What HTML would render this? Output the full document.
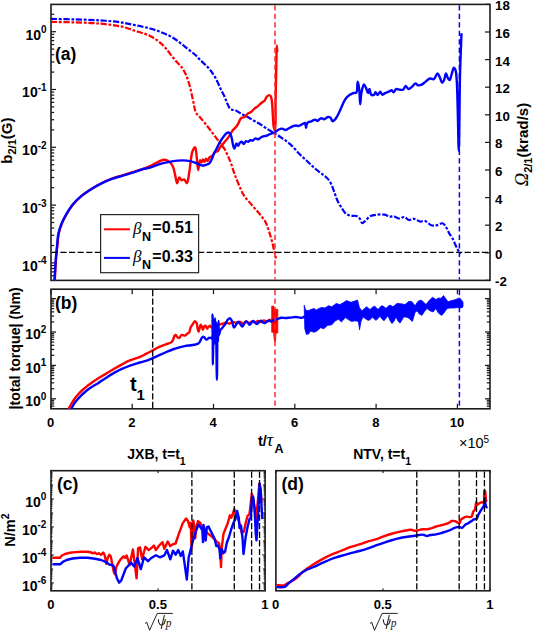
<!DOCTYPE html>
<html><head><meta charset="utf-8"><style>
html,body{margin:0;padding:0;background:#fff;overflow:hidden;}
svg{display:block;}
svg{font-family:"Liberation Sans",sans-serif;font-weight:bold;fill:#000;}
</style></head><body>
<svg width="533" height="631" viewBox="0 0 533 631">
<rect x="51.0" y="4.4" width="439.0" height="276.0" fill="none" stroke="#1c1c1c" stroke-width="1.6"/>
<line x1="51.00" y1="31.70" x2="56.00" y2="31.70" stroke="#1c1c1c" stroke-width="1.25" />
<line x1="51.00" y1="14.30" x2="54.20" y2="14.30" stroke="#1c1c1c" stroke-width="1.25" />
<line x1="51.00" y1="89.50" x2="56.00" y2="89.50" stroke="#1c1c1c" stroke-width="1.25" />
<line x1="51.00" y1="72.10" x2="54.20" y2="72.10" stroke="#1c1c1c" stroke-width="1.25" />
<line x1="51.00" y1="61.92" x2="54.20" y2="61.92" stroke="#1c1c1c" stroke-width="1.25" />
<line x1="51.00" y1="54.70" x2="54.20" y2="54.70" stroke="#1c1c1c" stroke-width="1.25" />
<line x1="51.00" y1="49.10" x2="54.20" y2="49.10" stroke="#1c1c1c" stroke-width="1.25" />
<line x1="51.00" y1="44.52" x2="54.20" y2="44.52" stroke="#1c1c1c" stroke-width="1.25" />
<line x1="51.00" y1="40.65" x2="54.20" y2="40.65" stroke="#1c1c1c" stroke-width="1.25" />
<line x1="51.00" y1="37.30" x2="54.20" y2="37.30" stroke="#1c1c1c" stroke-width="1.25" />
<line x1="51.00" y1="34.34" x2="54.20" y2="34.34" stroke="#1c1c1c" stroke-width="1.25" />
<line x1="51.00" y1="147.30" x2="56.00" y2="147.30" stroke="#1c1c1c" stroke-width="1.25" />
<line x1="51.00" y1="129.90" x2="54.20" y2="129.90" stroke="#1c1c1c" stroke-width="1.25" />
<line x1="51.00" y1="119.72" x2="54.20" y2="119.72" stroke="#1c1c1c" stroke-width="1.25" />
<line x1="51.00" y1="112.50" x2="54.20" y2="112.50" stroke="#1c1c1c" stroke-width="1.25" />
<line x1="51.00" y1="106.90" x2="54.20" y2="106.90" stroke="#1c1c1c" stroke-width="1.25" />
<line x1="51.00" y1="102.32" x2="54.20" y2="102.32" stroke="#1c1c1c" stroke-width="1.25" />
<line x1="51.00" y1="98.45" x2="54.20" y2="98.45" stroke="#1c1c1c" stroke-width="1.25" />
<line x1="51.00" y1="95.10" x2="54.20" y2="95.10" stroke="#1c1c1c" stroke-width="1.25" />
<line x1="51.00" y1="92.14" x2="54.20" y2="92.14" stroke="#1c1c1c" stroke-width="1.25" />
<line x1="51.00" y1="205.10" x2="56.00" y2="205.10" stroke="#1c1c1c" stroke-width="1.25" />
<line x1="51.00" y1="187.70" x2="54.20" y2="187.70" stroke="#1c1c1c" stroke-width="1.25" />
<line x1="51.00" y1="177.52" x2="54.20" y2="177.52" stroke="#1c1c1c" stroke-width="1.25" />
<line x1="51.00" y1="170.30" x2="54.20" y2="170.30" stroke="#1c1c1c" stroke-width="1.25" />
<line x1="51.00" y1="164.70" x2="54.20" y2="164.70" stroke="#1c1c1c" stroke-width="1.25" />
<line x1="51.00" y1="160.12" x2="54.20" y2="160.12" stroke="#1c1c1c" stroke-width="1.25" />
<line x1="51.00" y1="156.25" x2="54.20" y2="156.25" stroke="#1c1c1c" stroke-width="1.25" />
<line x1="51.00" y1="152.90" x2="54.20" y2="152.90" stroke="#1c1c1c" stroke-width="1.25" />
<line x1="51.00" y1="149.94" x2="54.20" y2="149.94" stroke="#1c1c1c" stroke-width="1.25" />
<line x1="51.00" y1="262.90" x2="56.00" y2="262.90" stroke="#1c1c1c" stroke-width="1.25" />
<line x1="51.00" y1="245.50" x2="54.20" y2="245.50" stroke="#1c1c1c" stroke-width="1.25" />
<line x1="51.00" y1="235.32" x2="54.20" y2="235.32" stroke="#1c1c1c" stroke-width="1.25" />
<line x1="51.00" y1="228.10" x2="54.20" y2="228.10" stroke="#1c1c1c" stroke-width="1.25" />
<line x1="51.00" y1="222.50" x2="54.20" y2="222.50" stroke="#1c1c1c" stroke-width="1.25" />
<line x1="51.00" y1="217.92" x2="54.20" y2="217.92" stroke="#1c1c1c" stroke-width="1.25" />
<line x1="51.00" y1="214.05" x2="54.20" y2="214.05" stroke="#1c1c1c" stroke-width="1.25" />
<line x1="51.00" y1="210.70" x2="54.20" y2="210.70" stroke="#1c1c1c" stroke-width="1.25" />
<line x1="51.00" y1="207.74" x2="54.20" y2="207.74" stroke="#1c1c1c" stroke-width="1.25" />
<line x1="51.00" y1="275.72" x2="54.20" y2="275.72" stroke="#1c1c1c" stroke-width="1.25" />
<line x1="51.00" y1="271.85" x2="54.20" y2="271.85" stroke="#1c1c1c" stroke-width="1.25" />
<line x1="51.00" y1="268.50" x2="54.20" y2="268.50" stroke="#1c1c1c" stroke-width="1.25" />
<line x1="51.00" y1="265.54" x2="54.20" y2="265.54" stroke="#1c1c1c" stroke-width="1.25" />
<text x="46.6" y="39.6" font-size="14" text-anchor="end" >10<tspan dy="-6.4" font-size="10">0</tspan></text>
<text x="46.6" y="97.4" font-size="14" text-anchor="end" >10<tspan dy="-6.4" font-size="10">-1</tspan></text>
<text x="46.6" y="155.2" font-size="14" text-anchor="end" >10<tspan dy="-6.4" font-size="10">-2</tspan></text>
<text x="46.6" y="212.99999999999997" font-size="14" text-anchor="end" >10<tspan dy="-6.4" font-size="10">-3</tspan></text>
<text x="46.6" y="270.79999999999995" font-size="14" text-anchor="end" >10<tspan dy="-6.4" font-size="10">-4</tspan></text>
<line x1="490.00" y1="280.40" x2="485.00" y2="280.40" stroke="#1c1c1c" stroke-width="1.25" />
<text x="495.0" y="286.4" font-size="13.3" text-anchor="start" >-2</text>
<line x1="490.00" y1="252.80" x2="485.00" y2="252.80" stroke="#1c1c1c" stroke-width="1.25" />
<text x="495.0" y="258.79999999999995" font-size="13.3" text-anchor="start" >0</text>
<line x1="490.00" y1="225.20" x2="485.00" y2="225.20" stroke="#1c1c1c" stroke-width="1.25" />
<text x="495.0" y="231.2" font-size="13.3" text-anchor="start" >2</text>
<line x1="490.00" y1="197.60" x2="485.00" y2="197.60" stroke="#1c1c1c" stroke-width="1.25" />
<text x="495.0" y="203.59999999999997" font-size="13.3" text-anchor="start" >4</text>
<line x1="490.00" y1="170.00" x2="485.00" y2="170.00" stroke="#1c1c1c" stroke-width="1.25" />
<text x="495.0" y="175.99999999999997" font-size="13.3" text-anchor="start" >6</text>
<line x1="490.00" y1="142.40" x2="485.00" y2="142.40" stroke="#1c1c1c" stroke-width="1.25" />
<text x="495.0" y="148.39999999999998" font-size="13.3" text-anchor="start" >8</text>
<line x1="490.00" y1="114.80" x2="485.00" y2="114.80" stroke="#1c1c1c" stroke-width="1.25" />
<text x="495.0" y="120.79999999999998" font-size="13.3" text-anchor="start" >10</text>
<line x1="490.00" y1="87.20" x2="485.00" y2="87.20" stroke="#1c1c1c" stroke-width="1.25" />
<text x="495.0" y="93.19999999999999" font-size="13.3" text-anchor="start" >12</text>
<line x1="490.00" y1="59.60" x2="485.00" y2="59.60" stroke="#1c1c1c" stroke-width="1.25" />
<text x="495.0" y="65.59999999999997" font-size="13.3" text-anchor="start" >14</text>
<line x1="490.00" y1="32.00" x2="485.00" y2="32.00" stroke="#1c1c1c" stroke-width="1.25" />
<text x="495.0" y="37.99999999999997" font-size="13.3" text-anchor="start" >16</text>
<line x1="490.00" y1="4.40" x2="485.00" y2="4.40" stroke="#1c1c1c" stroke-width="1.25" />
<text x="495.0" y="10.399999999999977" font-size="13.3" text-anchor="start" >18</text>
<rect x="51.0" y="289.2" width="439.0" height="119.60000000000002" fill="none" stroke="#1c1c1c" stroke-width="1.6"/>
<line x1="51.00" y1="406.21" x2="54.20" y2="406.21" stroke="#1c1c1c" stroke-width="1.25" />
<line x1="490.00" y1="406.21" x2="486.80" y2="406.21" stroke="#1c1c1c" stroke-width="1.25" />
<line x1="51.00" y1="403.97" x2="54.20" y2="403.97" stroke="#1c1c1c" stroke-width="1.25" />
<line x1="490.00" y1="403.97" x2="486.80" y2="403.97" stroke="#1c1c1c" stroke-width="1.25" />
<line x1="51.00" y1="402.04" x2="54.20" y2="402.04" stroke="#1c1c1c" stroke-width="1.25" />
<line x1="490.00" y1="402.04" x2="486.80" y2="402.04" stroke="#1c1c1c" stroke-width="1.25" />
<line x1="51.00" y1="400.33" x2="54.20" y2="400.33" stroke="#1c1c1c" stroke-width="1.25" />
<line x1="490.00" y1="400.33" x2="486.80" y2="400.33" stroke="#1c1c1c" stroke-width="1.25" />
<line x1="51.00" y1="398.80" x2="56.00" y2="398.80" stroke="#1c1c1c" stroke-width="1.25" />
<line x1="490.00" y1="398.80" x2="485.00" y2="398.80" stroke="#1c1c1c" stroke-width="1.25" />
<line x1="51.00" y1="388.75" x2="54.20" y2="388.75" stroke="#1c1c1c" stroke-width="1.25" />
<line x1="490.00" y1="388.75" x2="486.80" y2="388.75" stroke="#1c1c1c" stroke-width="1.25" />
<line x1="51.00" y1="382.86" x2="54.20" y2="382.86" stroke="#1c1c1c" stroke-width="1.25" />
<line x1="490.00" y1="382.86" x2="486.80" y2="382.86" stroke="#1c1c1c" stroke-width="1.25" />
<line x1="51.00" y1="378.69" x2="54.20" y2="378.69" stroke="#1c1c1c" stroke-width="1.25" />
<line x1="490.00" y1="378.69" x2="486.80" y2="378.69" stroke="#1c1c1c" stroke-width="1.25" />
<line x1="51.00" y1="375.45" x2="54.20" y2="375.45" stroke="#1c1c1c" stroke-width="1.25" />
<line x1="490.00" y1="375.45" x2="486.80" y2="375.45" stroke="#1c1c1c" stroke-width="1.25" />
<line x1="51.00" y1="372.81" x2="54.20" y2="372.81" stroke="#1c1c1c" stroke-width="1.25" />
<line x1="490.00" y1="372.81" x2="486.80" y2="372.81" stroke="#1c1c1c" stroke-width="1.25" />
<line x1="51.00" y1="370.57" x2="54.20" y2="370.57" stroke="#1c1c1c" stroke-width="1.25" />
<line x1="490.00" y1="370.57" x2="486.80" y2="370.57" stroke="#1c1c1c" stroke-width="1.25" />
<line x1="51.00" y1="368.64" x2="54.20" y2="368.64" stroke="#1c1c1c" stroke-width="1.25" />
<line x1="490.00" y1="368.64" x2="486.80" y2="368.64" stroke="#1c1c1c" stroke-width="1.25" />
<line x1="51.00" y1="366.93" x2="54.20" y2="366.93" stroke="#1c1c1c" stroke-width="1.25" />
<line x1="490.00" y1="366.93" x2="486.80" y2="366.93" stroke="#1c1c1c" stroke-width="1.25" />
<line x1="51.00" y1="365.40" x2="56.00" y2="365.40" stroke="#1c1c1c" stroke-width="1.25" />
<line x1="490.00" y1="365.40" x2="485.00" y2="365.40" stroke="#1c1c1c" stroke-width="1.25" />
<line x1="51.00" y1="355.35" x2="54.20" y2="355.35" stroke="#1c1c1c" stroke-width="1.25" />
<line x1="490.00" y1="355.35" x2="486.80" y2="355.35" stroke="#1c1c1c" stroke-width="1.25" />
<line x1="51.00" y1="349.46" x2="54.20" y2="349.46" stroke="#1c1c1c" stroke-width="1.25" />
<line x1="490.00" y1="349.46" x2="486.80" y2="349.46" stroke="#1c1c1c" stroke-width="1.25" />
<line x1="51.00" y1="345.29" x2="54.20" y2="345.29" stroke="#1c1c1c" stroke-width="1.25" />
<line x1="490.00" y1="345.29" x2="486.80" y2="345.29" stroke="#1c1c1c" stroke-width="1.25" />
<line x1="51.00" y1="342.05" x2="54.20" y2="342.05" stroke="#1c1c1c" stroke-width="1.25" />
<line x1="490.00" y1="342.05" x2="486.80" y2="342.05" stroke="#1c1c1c" stroke-width="1.25" />
<line x1="51.00" y1="339.41" x2="54.20" y2="339.41" stroke="#1c1c1c" stroke-width="1.25" />
<line x1="490.00" y1="339.41" x2="486.80" y2="339.41" stroke="#1c1c1c" stroke-width="1.25" />
<line x1="51.00" y1="337.17" x2="54.20" y2="337.17" stroke="#1c1c1c" stroke-width="1.25" />
<line x1="490.00" y1="337.17" x2="486.80" y2="337.17" stroke="#1c1c1c" stroke-width="1.25" />
<line x1="51.00" y1="335.24" x2="54.20" y2="335.24" stroke="#1c1c1c" stroke-width="1.25" />
<line x1="490.00" y1="335.24" x2="486.80" y2="335.24" stroke="#1c1c1c" stroke-width="1.25" />
<line x1="51.00" y1="333.53" x2="54.20" y2="333.53" stroke="#1c1c1c" stroke-width="1.25" />
<line x1="490.00" y1="333.53" x2="486.80" y2="333.53" stroke="#1c1c1c" stroke-width="1.25" />
<line x1="51.00" y1="332.00" x2="56.00" y2="332.00" stroke="#1c1c1c" stroke-width="1.25" />
<line x1="490.00" y1="332.00" x2="485.00" y2="332.00" stroke="#1c1c1c" stroke-width="1.25" />
<line x1="51.00" y1="321.95" x2="54.20" y2="321.95" stroke="#1c1c1c" stroke-width="1.25" />
<line x1="490.00" y1="321.95" x2="486.80" y2="321.95" stroke="#1c1c1c" stroke-width="1.25" />
<line x1="51.00" y1="316.06" x2="54.20" y2="316.06" stroke="#1c1c1c" stroke-width="1.25" />
<line x1="490.00" y1="316.06" x2="486.80" y2="316.06" stroke="#1c1c1c" stroke-width="1.25" />
<line x1="51.00" y1="311.89" x2="54.20" y2="311.89" stroke="#1c1c1c" stroke-width="1.25" />
<line x1="490.00" y1="311.89" x2="486.80" y2="311.89" stroke="#1c1c1c" stroke-width="1.25" />
<line x1="51.00" y1="308.65" x2="54.20" y2="308.65" stroke="#1c1c1c" stroke-width="1.25" />
<line x1="490.00" y1="308.65" x2="486.80" y2="308.65" stroke="#1c1c1c" stroke-width="1.25" />
<line x1="51.00" y1="306.01" x2="54.20" y2="306.01" stroke="#1c1c1c" stroke-width="1.25" />
<line x1="490.00" y1="306.01" x2="486.80" y2="306.01" stroke="#1c1c1c" stroke-width="1.25" />
<line x1="51.00" y1="303.77" x2="54.20" y2="303.77" stroke="#1c1c1c" stroke-width="1.25" />
<line x1="490.00" y1="303.77" x2="486.80" y2="303.77" stroke="#1c1c1c" stroke-width="1.25" />
<line x1="51.00" y1="301.84" x2="54.20" y2="301.84" stroke="#1c1c1c" stroke-width="1.25" />
<line x1="490.00" y1="301.84" x2="486.80" y2="301.84" stroke="#1c1c1c" stroke-width="1.25" />
<line x1="51.00" y1="300.13" x2="54.20" y2="300.13" stroke="#1c1c1c" stroke-width="1.25" />
<line x1="490.00" y1="300.13" x2="486.80" y2="300.13" stroke="#1c1c1c" stroke-width="1.25" />
<line x1="51.00" y1="298.60" x2="56.00" y2="298.60" stroke="#1c1c1c" stroke-width="1.25" />
<line x1="490.00" y1="298.60" x2="485.00" y2="298.60" stroke="#1c1c1c" stroke-width="1.25" />
<text x="46.3" y="406.0" font-size="14" text-anchor="end" >10<tspan dy="-6.4" font-size="10">0</tspan></text>
<text x="46.3" y="372.6" font-size="14" text-anchor="end" >10<tspan dy="-6.4" font-size="10">1</tspan></text>
<text x="46.3" y="339.2" font-size="14" text-anchor="end" >10<tspan dy="-6.4" font-size="10">2</tspan></text>
<line x1="50.90" y1="408.80" x2="50.90" y2="403.80" stroke="#1c1c1c" stroke-width="1.25" />
<line x1="50.90" y1="289.20" x2="50.90" y2="294.20" stroke="#1c1c1c" stroke-width="1.25" />
<text x="50.6" y="427.0" font-size="13" text-anchor="middle" >0</text>
<line x1="132.20" y1="408.80" x2="132.20" y2="403.80" stroke="#1c1c1c" stroke-width="1.25" />
<line x1="132.20" y1="289.20" x2="132.20" y2="294.20" stroke="#1c1c1c" stroke-width="1.25" />
<text x="131.89999999999998" y="427.0" font-size="13" text-anchor="middle" >2</text>
<line x1="213.50" y1="408.80" x2="213.50" y2="403.80" stroke="#1c1c1c" stroke-width="1.25" />
<line x1="213.50" y1="289.20" x2="213.50" y2="294.20" stroke="#1c1c1c" stroke-width="1.25" />
<text x="213.2" y="427.0" font-size="13" text-anchor="middle" >4</text>
<line x1="294.80" y1="408.80" x2="294.80" y2="403.80" stroke="#1c1c1c" stroke-width="1.25" />
<line x1="294.80" y1="289.20" x2="294.80" y2="294.20" stroke="#1c1c1c" stroke-width="1.25" />
<text x="294.49999999999994" y="427.0" font-size="13" text-anchor="middle" >6</text>
<line x1="376.10" y1="408.80" x2="376.10" y2="403.80" stroke="#1c1c1c" stroke-width="1.25" />
<line x1="376.10" y1="289.20" x2="376.10" y2="294.20" stroke="#1c1c1c" stroke-width="1.25" />
<text x="375.79999999999995" y="427.0" font-size="13" text-anchor="middle" >8</text>
<line x1="457.40" y1="408.80" x2="457.40" y2="403.80" stroke="#1c1c1c" stroke-width="1.25" />
<line x1="457.40" y1="289.20" x2="457.40" y2="294.20" stroke="#1c1c1c" stroke-width="1.25" />
<text x="457.09999999999997" y="427.0" font-size="13" text-anchor="middle" >10</text>
<rect x="51.0" y="470.7" width="214.10000000000002" height="120.09999999999997" fill="none" stroke="#1c1c1c" stroke-width="1.6"/>
<rect x="275.9" y="470.7" width="214.10000000000002" height="120.09999999999997" fill="none" stroke="#1c1c1c" stroke-width="1.6"/>
<text x="55" y="59.7" font-size="17.5" text-anchor="start" >(a)</text>
<text x="55" y="308.9" font-size="17.5" text-anchor="start" >(b)</text>
<text x="57" y="489.7" font-size="17.5" text-anchor="start" >(c)</text>
<text x="281.5" y="489.7" font-size="17.5" text-anchor="start" >(d)</text>
<text x="130" y="390.5" font-size="20" text-anchor="start" >t</text>
<text x="136.5" y="399.9" font-size="15" text-anchor="start" >1</text>
<text x="127.3" y="458.8" font-size="14" text-anchor="start" >JXB, t=t<tspan font-size='10.5' dy='6'>1</tspan></text>
<text x="353.2" y="458.8" font-size="14" text-anchor="start" >NTV, t=t<tspan font-size='10.5' dy='6'>1</tspan></text>
<text x="257.9" y="445.8" font-size="14.5" text-anchor="start" >t/</text>
<text x="266.6" y="446.0" font-size="19" text-anchor="start" font-family='Liberation Serif' font-style='italic' font-weight='normal'>τ</text>
<text x="274.6" y="452.7" font-size="12.5" text-anchor="start" >A</text>
<text x="459" y="448.3" font-size="14.5" text-anchor="start" font-weight='normal'>×10<tspan font-size='10' dy='-5.8'>5</tspan></text>
<text x="50.8" y="608.8" font-size="13" text-anchor="middle" >0</text>
<line x1="51.00" y1="590.80" x2="51.00" y2="588.40" stroke="#1c1c1c" stroke-width="1.2" />
<line x1="51.00" y1="470.70" x2="51.00" y2="473.10" stroke="#1c1c1c" stroke-width="1.2" />
<text x="157.85000000000002" y="608.8" font-size="13" text-anchor="middle" >0.5</text>
<line x1="158.05" y1="590.80" x2="158.05" y2="588.40" stroke="#1c1c1c" stroke-width="1.2" />
<line x1="158.05" y1="470.70" x2="158.05" y2="473.10" stroke="#1c1c1c" stroke-width="1.2" />
<text x="264.90000000000003" y="608.8" font-size="13" text-anchor="middle" >1</text>
<line x1="265.10" y1="590.80" x2="265.10" y2="588.40" stroke="#1c1c1c" stroke-width="1.2" />
<line x1="265.10" y1="470.70" x2="265.10" y2="473.10" stroke="#1c1c1c" stroke-width="1.2" />
<text x="275.7" y="608.8" font-size="13" text-anchor="middle" >0</text>
<line x1="275.90" y1="590.80" x2="275.90" y2="588.40" stroke="#1c1c1c" stroke-width="1.2" />
<line x1="275.90" y1="470.70" x2="275.90" y2="473.10" stroke="#1c1c1c" stroke-width="1.2" />
<text x="382.75" y="608.8" font-size="13" text-anchor="middle" >0.5</text>
<line x1="382.95" y1="590.80" x2="382.95" y2="588.40" stroke="#1c1c1c" stroke-width="1.2" />
<line x1="382.95" y1="470.70" x2="382.95" y2="473.10" stroke="#1c1c1c" stroke-width="1.2" />
<text x="489.8" y="608.8" font-size="13" text-anchor="middle" >1</text>
<line x1="490.00" y1="590.80" x2="490.00" y2="588.40" stroke="#1c1c1c" stroke-width="1.2" />
<line x1="490.00" y1="470.70" x2="490.00" y2="473.10" stroke="#1c1c1c" stroke-width="1.2" />
<line x1="51.00" y1="588.47" x2="52.50" y2="588.47" stroke="#1c1c1c" stroke-width="0.9" />
<line x1="265.10" y1="588.47" x2="263.60" y2="588.47" stroke="#1c1c1c" stroke-width="0.9" />
<line x1="51.00" y1="587.11" x2="52.50" y2="587.11" stroke="#1c1c1c" stroke-width="0.9" />
<line x1="265.10" y1="587.11" x2="263.60" y2="587.11" stroke="#1c1c1c" stroke-width="0.9" />
<line x1="51.00" y1="586.01" x2="52.50" y2="586.01" stroke="#1c1c1c" stroke-width="0.9" />
<line x1="265.10" y1="586.01" x2="263.60" y2="586.01" stroke="#1c1c1c" stroke-width="0.9" />
<line x1="51.00" y1="585.07" x2="52.50" y2="585.07" stroke="#1c1c1c" stroke-width="0.9" />
<line x1="265.10" y1="585.07" x2="263.60" y2="585.07" stroke="#1c1c1c" stroke-width="0.9" />
<line x1="51.00" y1="584.26" x2="52.50" y2="584.26" stroke="#1c1c1c" stroke-width="0.9" />
<line x1="265.10" y1="584.26" x2="263.60" y2="584.26" stroke="#1c1c1c" stroke-width="0.9" />
<line x1="51.00" y1="583.54" x2="52.50" y2="583.54" stroke="#1c1c1c" stroke-width="0.9" />
<line x1="265.10" y1="583.54" x2="263.60" y2="583.54" stroke="#1c1c1c" stroke-width="0.9" />
<line x1="51.00" y1="582.90" x2="54.00" y2="582.90" stroke="#1c1c1c" stroke-width="0.9" />
<line x1="265.10" y1="582.90" x2="262.10" y2="582.90" stroke="#1c1c1c" stroke-width="0.9" />
<line x1="51.00" y1="578.69" x2="52.50" y2="578.69" stroke="#1c1c1c" stroke-width="0.9" />
<line x1="265.10" y1="578.69" x2="263.60" y2="578.69" stroke="#1c1c1c" stroke-width="0.9" />
<line x1="51.00" y1="576.22" x2="52.50" y2="576.22" stroke="#1c1c1c" stroke-width="0.9" />
<line x1="265.10" y1="576.22" x2="263.60" y2="576.22" stroke="#1c1c1c" stroke-width="0.9" />
<line x1="51.00" y1="574.47" x2="52.50" y2="574.47" stroke="#1c1c1c" stroke-width="0.9" />
<line x1="265.10" y1="574.47" x2="263.60" y2="574.47" stroke="#1c1c1c" stroke-width="0.9" />
<line x1="51.00" y1="573.11" x2="52.50" y2="573.11" stroke="#1c1c1c" stroke-width="0.9" />
<line x1="265.10" y1="573.11" x2="263.60" y2="573.11" stroke="#1c1c1c" stroke-width="0.9" />
<line x1="51.00" y1="572.01" x2="52.50" y2="572.01" stroke="#1c1c1c" stroke-width="0.9" />
<line x1="265.10" y1="572.01" x2="263.60" y2="572.01" stroke="#1c1c1c" stroke-width="0.9" />
<line x1="51.00" y1="571.07" x2="52.50" y2="571.07" stroke="#1c1c1c" stroke-width="0.9" />
<line x1="265.10" y1="571.07" x2="263.60" y2="571.07" stroke="#1c1c1c" stroke-width="0.9" />
<line x1="51.00" y1="570.26" x2="52.50" y2="570.26" stroke="#1c1c1c" stroke-width="0.9" />
<line x1="265.10" y1="570.26" x2="263.60" y2="570.26" stroke="#1c1c1c" stroke-width="0.9" />
<line x1="51.00" y1="569.54" x2="52.50" y2="569.54" stroke="#1c1c1c" stroke-width="0.9" />
<line x1="265.10" y1="569.54" x2="263.60" y2="569.54" stroke="#1c1c1c" stroke-width="0.9" />
<line x1="51.00" y1="568.90" x2="53.20" y2="568.90" stroke="#1c1c1c" stroke-width="0.9" />
<line x1="265.10" y1="568.90" x2="262.90" y2="568.90" stroke="#1c1c1c" stroke-width="0.9" />
<line x1="51.00" y1="564.69" x2="52.50" y2="564.69" stroke="#1c1c1c" stroke-width="0.9" />
<line x1="265.10" y1="564.69" x2="263.60" y2="564.69" stroke="#1c1c1c" stroke-width="0.9" />
<line x1="51.00" y1="562.22" x2="52.50" y2="562.22" stroke="#1c1c1c" stroke-width="0.9" />
<line x1="265.10" y1="562.22" x2="263.60" y2="562.22" stroke="#1c1c1c" stroke-width="0.9" />
<line x1="51.00" y1="560.47" x2="52.50" y2="560.47" stroke="#1c1c1c" stroke-width="0.9" />
<line x1="265.10" y1="560.47" x2="263.60" y2="560.47" stroke="#1c1c1c" stroke-width="0.9" />
<line x1="51.00" y1="559.11" x2="52.50" y2="559.11" stroke="#1c1c1c" stroke-width="0.9" />
<line x1="265.10" y1="559.11" x2="263.60" y2="559.11" stroke="#1c1c1c" stroke-width="0.9" />
<line x1="51.00" y1="558.01" x2="52.50" y2="558.01" stroke="#1c1c1c" stroke-width="0.9" />
<line x1="265.10" y1="558.01" x2="263.60" y2="558.01" stroke="#1c1c1c" stroke-width="0.9" />
<line x1="51.00" y1="557.07" x2="52.50" y2="557.07" stroke="#1c1c1c" stroke-width="0.9" />
<line x1="265.10" y1="557.07" x2="263.60" y2="557.07" stroke="#1c1c1c" stroke-width="0.9" />
<line x1="51.00" y1="556.26" x2="52.50" y2="556.26" stroke="#1c1c1c" stroke-width="0.9" />
<line x1="265.10" y1="556.26" x2="263.60" y2="556.26" stroke="#1c1c1c" stroke-width="0.9" />
<line x1="51.00" y1="555.54" x2="52.50" y2="555.54" stroke="#1c1c1c" stroke-width="0.9" />
<line x1="265.10" y1="555.54" x2="263.60" y2="555.54" stroke="#1c1c1c" stroke-width="0.9" />
<line x1="51.00" y1="554.90" x2="54.00" y2="554.90" stroke="#1c1c1c" stroke-width="0.9" />
<line x1="265.10" y1="554.90" x2="262.10" y2="554.90" stroke="#1c1c1c" stroke-width="0.9" />
<line x1="51.00" y1="550.69" x2="52.50" y2="550.69" stroke="#1c1c1c" stroke-width="0.9" />
<line x1="265.10" y1="550.69" x2="263.60" y2="550.69" stroke="#1c1c1c" stroke-width="0.9" />
<line x1="51.00" y1="548.22" x2="52.50" y2="548.22" stroke="#1c1c1c" stroke-width="0.9" />
<line x1="265.10" y1="548.22" x2="263.60" y2="548.22" stroke="#1c1c1c" stroke-width="0.9" />
<line x1="51.00" y1="546.47" x2="52.50" y2="546.47" stroke="#1c1c1c" stroke-width="0.9" />
<line x1="265.10" y1="546.47" x2="263.60" y2="546.47" stroke="#1c1c1c" stroke-width="0.9" />
<line x1="51.00" y1="545.11" x2="52.50" y2="545.11" stroke="#1c1c1c" stroke-width="0.9" />
<line x1="265.10" y1="545.11" x2="263.60" y2="545.11" stroke="#1c1c1c" stroke-width="0.9" />
<line x1="51.00" y1="544.01" x2="52.50" y2="544.01" stroke="#1c1c1c" stroke-width="0.9" />
<line x1="265.10" y1="544.01" x2="263.60" y2="544.01" stroke="#1c1c1c" stroke-width="0.9" />
<line x1="51.00" y1="543.07" x2="52.50" y2="543.07" stroke="#1c1c1c" stroke-width="0.9" />
<line x1="265.10" y1="543.07" x2="263.60" y2="543.07" stroke="#1c1c1c" stroke-width="0.9" />
<line x1="51.00" y1="542.26" x2="52.50" y2="542.26" stroke="#1c1c1c" stroke-width="0.9" />
<line x1="265.10" y1="542.26" x2="263.60" y2="542.26" stroke="#1c1c1c" stroke-width="0.9" />
<line x1="51.00" y1="541.54" x2="52.50" y2="541.54" stroke="#1c1c1c" stroke-width="0.9" />
<line x1="265.10" y1="541.54" x2="263.60" y2="541.54" stroke="#1c1c1c" stroke-width="0.9" />
<line x1="51.00" y1="540.90" x2="53.20" y2="540.90" stroke="#1c1c1c" stroke-width="0.9" />
<line x1="265.10" y1="540.90" x2="262.90" y2="540.90" stroke="#1c1c1c" stroke-width="0.9" />
<line x1="51.00" y1="536.69" x2="52.50" y2="536.69" stroke="#1c1c1c" stroke-width="0.9" />
<line x1="265.10" y1="536.69" x2="263.60" y2="536.69" stroke="#1c1c1c" stroke-width="0.9" />
<line x1="51.00" y1="534.22" x2="52.50" y2="534.22" stroke="#1c1c1c" stroke-width="0.9" />
<line x1="265.10" y1="534.22" x2="263.60" y2="534.22" stroke="#1c1c1c" stroke-width="0.9" />
<line x1="51.00" y1="532.47" x2="52.50" y2="532.47" stroke="#1c1c1c" stroke-width="0.9" />
<line x1="265.10" y1="532.47" x2="263.60" y2="532.47" stroke="#1c1c1c" stroke-width="0.9" />
<line x1="51.00" y1="531.11" x2="52.50" y2="531.11" stroke="#1c1c1c" stroke-width="0.9" />
<line x1="265.10" y1="531.11" x2="263.60" y2="531.11" stroke="#1c1c1c" stroke-width="0.9" />
<line x1="51.00" y1="530.01" x2="52.50" y2="530.01" stroke="#1c1c1c" stroke-width="0.9" />
<line x1="265.10" y1="530.01" x2="263.60" y2="530.01" stroke="#1c1c1c" stroke-width="0.9" />
<line x1="51.00" y1="529.07" x2="52.50" y2="529.07" stroke="#1c1c1c" stroke-width="0.9" />
<line x1="265.10" y1="529.07" x2="263.60" y2="529.07" stroke="#1c1c1c" stroke-width="0.9" />
<line x1="51.00" y1="528.26" x2="52.50" y2="528.26" stroke="#1c1c1c" stroke-width="0.9" />
<line x1="265.10" y1="528.26" x2="263.60" y2="528.26" stroke="#1c1c1c" stroke-width="0.9" />
<line x1="51.00" y1="527.54" x2="52.50" y2="527.54" stroke="#1c1c1c" stroke-width="0.9" />
<line x1="265.10" y1="527.54" x2="263.60" y2="527.54" stroke="#1c1c1c" stroke-width="0.9" />
<line x1="51.00" y1="526.90" x2="54.00" y2="526.90" stroke="#1c1c1c" stroke-width="0.9" />
<line x1="265.10" y1="526.90" x2="262.10" y2="526.90" stroke="#1c1c1c" stroke-width="0.9" />
<line x1="51.00" y1="522.69" x2="52.50" y2="522.69" stroke="#1c1c1c" stroke-width="0.9" />
<line x1="265.10" y1="522.69" x2="263.60" y2="522.69" stroke="#1c1c1c" stroke-width="0.9" />
<line x1="51.00" y1="520.22" x2="52.50" y2="520.22" stroke="#1c1c1c" stroke-width="0.9" />
<line x1="265.10" y1="520.22" x2="263.60" y2="520.22" stroke="#1c1c1c" stroke-width="0.9" />
<line x1="51.00" y1="518.47" x2="52.50" y2="518.47" stroke="#1c1c1c" stroke-width="0.9" />
<line x1="265.10" y1="518.47" x2="263.60" y2="518.47" stroke="#1c1c1c" stroke-width="0.9" />
<line x1="51.00" y1="517.11" x2="52.50" y2="517.11" stroke="#1c1c1c" stroke-width="0.9" />
<line x1="265.10" y1="517.11" x2="263.60" y2="517.11" stroke="#1c1c1c" stroke-width="0.9" />
<line x1="51.00" y1="516.01" x2="52.50" y2="516.01" stroke="#1c1c1c" stroke-width="0.9" />
<line x1="265.10" y1="516.01" x2="263.60" y2="516.01" stroke="#1c1c1c" stroke-width="0.9" />
<line x1="51.00" y1="515.07" x2="52.50" y2="515.07" stroke="#1c1c1c" stroke-width="0.9" />
<line x1="265.10" y1="515.07" x2="263.60" y2="515.07" stroke="#1c1c1c" stroke-width="0.9" />
<line x1="51.00" y1="514.26" x2="52.50" y2="514.26" stroke="#1c1c1c" stroke-width="0.9" />
<line x1="265.10" y1="514.26" x2="263.60" y2="514.26" stroke="#1c1c1c" stroke-width="0.9" />
<line x1="51.00" y1="513.54" x2="52.50" y2="513.54" stroke="#1c1c1c" stroke-width="0.9" />
<line x1="265.10" y1="513.54" x2="263.60" y2="513.54" stroke="#1c1c1c" stroke-width="0.9" />
<line x1="51.00" y1="512.90" x2="53.20" y2="512.90" stroke="#1c1c1c" stroke-width="0.9" />
<line x1="265.10" y1="512.90" x2="262.90" y2="512.90" stroke="#1c1c1c" stroke-width="0.9" />
<line x1="51.00" y1="508.69" x2="52.50" y2="508.69" stroke="#1c1c1c" stroke-width="0.9" />
<line x1="265.10" y1="508.69" x2="263.60" y2="508.69" stroke="#1c1c1c" stroke-width="0.9" />
<line x1="51.00" y1="506.22" x2="52.50" y2="506.22" stroke="#1c1c1c" stroke-width="0.9" />
<line x1="265.10" y1="506.22" x2="263.60" y2="506.22" stroke="#1c1c1c" stroke-width="0.9" />
<line x1="51.00" y1="504.47" x2="52.50" y2="504.47" stroke="#1c1c1c" stroke-width="0.9" />
<line x1="265.10" y1="504.47" x2="263.60" y2="504.47" stroke="#1c1c1c" stroke-width="0.9" />
<line x1="51.00" y1="503.11" x2="52.50" y2="503.11" stroke="#1c1c1c" stroke-width="0.9" />
<line x1="265.10" y1="503.11" x2="263.60" y2="503.11" stroke="#1c1c1c" stroke-width="0.9" />
<line x1="51.00" y1="502.01" x2="52.50" y2="502.01" stroke="#1c1c1c" stroke-width="0.9" />
<line x1="265.10" y1="502.01" x2="263.60" y2="502.01" stroke="#1c1c1c" stroke-width="0.9" />
<line x1="51.00" y1="501.07" x2="52.50" y2="501.07" stroke="#1c1c1c" stroke-width="0.9" />
<line x1="265.10" y1="501.07" x2="263.60" y2="501.07" stroke="#1c1c1c" stroke-width="0.9" />
<line x1="51.00" y1="500.26" x2="52.50" y2="500.26" stroke="#1c1c1c" stroke-width="0.9" />
<line x1="265.10" y1="500.26" x2="263.60" y2="500.26" stroke="#1c1c1c" stroke-width="0.9" />
<line x1="51.00" y1="499.54" x2="52.50" y2="499.54" stroke="#1c1c1c" stroke-width="0.9" />
<line x1="265.10" y1="499.54" x2="263.60" y2="499.54" stroke="#1c1c1c" stroke-width="0.9" />
<line x1="51.00" y1="498.90" x2="54.00" y2="498.90" stroke="#1c1c1c" stroke-width="0.9" />
<line x1="265.10" y1="498.90" x2="262.10" y2="498.90" stroke="#1c1c1c" stroke-width="0.9" />
<line x1="51.00" y1="494.69" x2="52.50" y2="494.69" stroke="#1c1c1c" stroke-width="0.9" />
<line x1="265.10" y1="494.69" x2="263.60" y2="494.69" stroke="#1c1c1c" stroke-width="0.9" />
<line x1="51.00" y1="492.22" x2="52.50" y2="492.22" stroke="#1c1c1c" stroke-width="0.9" />
<line x1="265.10" y1="492.22" x2="263.60" y2="492.22" stroke="#1c1c1c" stroke-width="0.9" />
<line x1="51.00" y1="490.47" x2="52.50" y2="490.47" stroke="#1c1c1c" stroke-width="0.9" />
<line x1="265.10" y1="490.47" x2="263.60" y2="490.47" stroke="#1c1c1c" stroke-width="0.9" />
<line x1="51.00" y1="489.11" x2="52.50" y2="489.11" stroke="#1c1c1c" stroke-width="0.9" />
<line x1="265.10" y1="489.11" x2="263.60" y2="489.11" stroke="#1c1c1c" stroke-width="0.9" />
<line x1="51.00" y1="488.01" x2="52.50" y2="488.01" stroke="#1c1c1c" stroke-width="0.9" />
<line x1="265.10" y1="488.01" x2="263.60" y2="488.01" stroke="#1c1c1c" stroke-width="0.9" />
<line x1="51.00" y1="487.07" x2="52.50" y2="487.07" stroke="#1c1c1c" stroke-width="0.9" />
<line x1="265.10" y1="487.07" x2="263.60" y2="487.07" stroke="#1c1c1c" stroke-width="0.9" />
<line x1="51.00" y1="486.26" x2="52.50" y2="486.26" stroke="#1c1c1c" stroke-width="0.9" />
<line x1="265.10" y1="486.26" x2="263.60" y2="486.26" stroke="#1c1c1c" stroke-width="0.9" />
<line x1="51.00" y1="485.54" x2="52.50" y2="485.54" stroke="#1c1c1c" stroke-width="0.9" />
<line x1="265.10" y1="485.54" x2="263.60" y2="485.54" stroke="#1c1c1c" stroke-width="0.9" />
<line x1="51.00" y1="484.90" x2="53.20" y2="484.90" stroke="#1c1c1c" stroke-width="0.9" />
<line x1="265.10" y1="484.90" x2="262.90" y2="484.90" stroke="#1c1c1c" stroke-width="0.9" />
<line x1="51.00" y1="480.69" x2="52.50" y2="480.69" stroke="#1c1c1c" stroke-width="0.9" />
<line x1="265.10" y1="480.69" x2="263.60" y2="480.69" stroke="#1c1c1c" stroke-width="0.9" />
<line x1="51.00" y1="478.22" x2="52.50" y2="478.22" stroke="#1c1c1c" stroke-width="0.9" />
<line x1="265.10" y1="478.22" x2="263.60" y2="478.22" stroke="#1c1c1c" stroke-width="0.9" />
<line x1="51.00" y1="476.47" x2="52.50" y2="476.47" stroke="#1c1c1c" stroke-width="0.9" />
<line x1="265.10" y1="476.47" x2="263.60" y2="476.47" stroke="#1c1c1c" stroke-width="0.9" />
<line x1="51.00" y1="475.11" x2="52.50" y2="475.11" stroke="#1c1c1c" stroke-width="0.9" />
<line x1="265.10" y1="475.11" x2="263.60" y2="475.11" stroke="#1c1c1c" stroke-width="0.9" />
<line x1="51.00" y1="474.01" x2="52.50" y2="474.01" stroke="#1c1c1c" stroke-width="0.9" />
<line x1="265.10" y1="474.01" x2="263.60" y2="474.01" stroke="#1c1c1c" stroke-width="0.9" />
<line x1="51.00" y1="473.07" x2="52.50" y2="473.07" stroke="#1c1c1c" stroke-width="0.9" />
<line x1="265.10" y1="473.07" x2="263.60" y2="473.07" stroke="#1c1c1c" stroke-width="0.9" />
<line x1="51.00" y1="472.26" x2="52.50" y2="472.26" stroke="#1c1c1c" stroke-width="0.9" />
<line x1="265.10" y1="472.26" x2="263.60" y2="472.26" stroke="#1c1c1c" stroke-width="0.9" />
<text x="46.4" y="506.7" font-size="14" text-anchor="end" >10<tspan dy="-6.4" font-size="10">0</tspan></text>
<text x="46.4" y="534.6999999999999" font-size="14" text-anchor="end" >10<tspan dy="-6.4" font-size="10">-2</tspan></text>
<text x="46.4" y="562.6999999999999" font-size="14" text-anchor="end" >10<tspan dy="-6.4" font-size="10">-4</tspan></text>
<text x="46.4" y="590.6999999999999" font-size="14" text-anchor="end" >10<tspan dy="-6.4" font-size="10">-6</tspan></text>
<text x="0" y="0" font-size="14.2" text-anchor="start" transform='translate(20.4,409.4) rotate(-90)'>|total torque| (Nm)</text>
<text x="0" y="0" font-size="15" text-anchor="start" transform='translate(11.7,163.7) rotate(-90)'>b<tspan font-size='11' dy='4.5'>2/1</tspan><tspan dy='-4.5'>(G)</tspan></text>
<text x="0" y="0" font-size="14.5" text-anchor="start" transform='translate(15.2,546.7) rotate(-90)'>N/m<tspan font-size='10.5' dy='-6'>2</tspan></text>
<text x="0" y="0" font-size="15.2" text-anchor="start" transform='translate(527.6,186.2) rotate(-90)'><tspan font-family='Liberation Serif' font-style='italic' font-weight='normal' font-size='18.5'>Ω</tspan><tspan font-size='11' dy='4.5'>2/1</tspan><tspan dy='-4.5'>(krad/s)</tspan></text>
<path d="M51.00,21.90 C55.00,21.98 66.92,22.12 75.00,22.40 C83.25,22.68 92.15,22.88 100.00,23.60 C107.05,24.24 114.96,25.32 120.00,26.30 C123.12,26.90 125.02,27.46 127.50,28.20 C130.02,28.95 132.49,30.00 135.00,30.80 C137.49,31.60 140.02,32.14 142.50,33.00 C145.02,33.87 147.55,34.78 150.00,36.00 C152.55,37.27 155.21,38.82 157.50,40.50 C159.69,42.10 161.70,43.98 163.50,45.80 C165.17,47.49 166.52,49.18 168.00,51.00 C169.55,52.91 171.05,55.08 172.60,57.00 C174.09,58.84 175.58,60.58 177.10,62.30 C178.58,63.98 180.23,65.35 181.60,67.20 C183.09,69.21 184.39,71.41 185.60,74.00 C187.05,77.10 188.24,80.74 189.40,84.70 C190.79,89.46 191.93,95.73 193.10,100.70 C194.12,105.04 194.61,110.31 196.00,112.90 C196.79,114.38 197.72,114.69 198.80,115.90 C200.36,117.66 202.56,120.23 204.40,122.50 C206.29,124.83 208.15,127.27 210.00,129.70 C211.88,132.17 213.80,134.85 215.60,137.20 C217.22,139.32 218.76,141.13 220.30,143.20 C221.89,145.33 223.63,147.45 225.00,149.80 C226.40,152.21 227.54,155.10 228.60,157.50 C229.51,159.56 230.16,161.03 231.00,163.30 C232.15,166.41 233.22,170.52 234.70,174.50 C236.43,179.16 239.13,185.61 240.90,189.50 C242.06,192.04 242.69,193.71 244.00,195.70 C245.41,197.85 247.38,199.76 249.20,201.90 C251.17,204.22 253.35,206.70 255.40,209.10 C257.45,211.50 259.71,213.94 261.50,216.30 C263.09,218.40 264.51,220.21 265.70,222.50 C266.98,224.97 267.81,227.79 268.80,230.70 C269.89,233.92 270.98,237.55 271.90,241.00 C272.81,244.42 273.57,248.16 274.30,251.30 C274.92,253.94 275.72,257.38 276.00,258.60" fill="none" stroke="#ff0000" stroke-width="2.2" stroke-linejoin="round" stroke-dasharray='6.2 1.7 2.8 1.7'/>
<path d="M51.00,18.90 C55.00,18.98 66.92,19.15 75.00,19.40 C83.25,19.65 92.14,19.89 100.00,20.40 C107.04,20.86 114.95,21.47 120.00,22.20 C123.12,22.65 125.00,23.20 127.50,23.70 C130.00,24.20 132.50,24.70 135.00,25.20 C137.50,25.70 140.01,26.15 142.50,26.70 C145.01,27.25 147.51,27.82 150.00,28.50 C152.51,29.19 155.02,29.92 157.50,30.80 C160.02,31.69 162.51,32.70 165.00,33.80 C167.55,34.93 170.13,36.04 172.60,37.50 C175.17,39.02 177.63,40.94 180.10,42.80 C182.63,44.70 185.10,46.80 187.60,48.80 C190.10,50.80 192.96,52.89 195.10,54.80 C196.84,56.36 198.02,57.75 199.60,59.30 C201.31,60.98 203.25,62.75 205.00,64.50 C206.72,66.22 208.37,67.68 210.00,69.70 C211.92,72.09 213.84,74.97 215.60,78.10 C217.64,81.72 219.63,86.88 221.30,90.30 C222.53,92.82 223.65,94.69 224.60,96.80 C225.46,98.72 225.98,100.55 226.80,102.40 C227.64,104.29 228.55,106.75 229.60,108.00 C230.31,108.85 231.01,109.32 231.90,109.70 C232.88,110.12 234.07,109.85 235.30,110.30 C236.99,110.92 238.92,112.53 240.90,113.60 C243.04,114.76 245.46,115.78 247.70,117.00 C249.97,118.24 252.15,119.68 254.40,121.00 C256.65,122.32 258.97,123.51 261.20,124.90 C263.47,126.31 265.74,128.03 267.90,129.40 C269.86,130.64 271.50,131.51 273.60,132.80 C276.23,134.42 279.56,136.43 282.40,138.40 C285.22,140.36 287.91,142.19 290.60,144.60 C293.62,147.30 296.57,151.08 299.50,154.00 C302.20,156.68 304.88,159.04 307.50,161.50 C310.04,163.88 312.45,166.32 315.00,168.50 C317.46,170.61 320.20,172.53 322.50,174.40 C324.52,176.04 326.54,177.25 328.10,179.10 C329.68,180.98 330.81,183.30 331.90,185.60 C333.03,187.99 333.76,190.68 334.70,193.20 C335.63,195.71 336.38,198.33 337.50,200.70 C338.59,202.99 339.91,205.06 341.30,207.20 C342.74,209.42 344.20,212.38 346.00,213.80 C347.42,214.92 349.03,215.33 350.70,215.70 C352.45,216.09 354.73,215.44 356.30,216.00 C357.66,216.49 358.74,217.41 359.70,218.50 C360.79,219.73 361.23,223.00 362.30,223.20 C363.27,223.38 364.49,221.46 365.70,220.40 C367.16,219.12 368.55,216.95 370.40,216.00 C372.28,215.04 374.64,214.92 376.90,214.70 C379.30,214.46 382.11,214.32 384.40,214.70 C386.43,215.04 388.29,216.39 390.00,216.60 C391.37,216.77 392.46,216.08 393.80,216.30 C395.43,216.56 397.24,218.39 399.00,218.50 C400.74,218.61 402.66,216.74 404.30,217.00 C405.92,217.26 407.18,219.70 408.80,220.00 C410.41,220.29 412.23,218.63 414.00,218.80 C415.96,218.99 418.02,221.15 420.00,221.50 C421.78,221.81 423.56,220.62 425.30,221.10 C427.34,221.66 429.27,224.66 431.30,225.30 C433.01,225.84 434.72,225.58 436.50,225.30 C438.48,224.98 440.94,222.85 442.60,223.30 C444.15,223.72 445.22,225.90 446.30,227.50 C447.48,229.26 448.24,231.67 449.30,233.50 C450.25,235.14 451.31,236.23 452.30,238.00 C453.59,240.30 454.83,243.78 456.10,246.30 C457.20,248.48 458.53,250.99 459.40,252.30 C459.86,252.99 460.40,253.55 460.60,253.80" fill="none" stroke="#0000ff" stroke-width="2.2" stroke-linejoin="round" stroke-dasharray='6.2 1.7 2.8 1.7'/>
<path d="M54.80,280.50 C55.00,276.92 55.50,265.40 56.00,259.00 C56.40,253.83 56.94,249.33 57.40,245.00 C57.80,241.25 57.91,237.94 58.60,234.50 C59.28,231.07 60.20,227.73 61.50,224.40 C62.87,220.89 64.78,217.31 66.70,214.00 C68.58,210.75 70.54,207.61 72.90,204.70 C75.30,201.74 78.02,198.97 81.00,196.40 C84.10,193.72 87.73,191.23 91.20,189.00 C94.56,186.84 98.02,184.95 101.50,183.20 C104.92,181.49 108.40,179.91 111.90,178.60 C115.31,177.32 118.77,176.47 122.20,175.40 C125.63,174.33 129.33,173.16 132.50,172.20 C135.19,171.39 137.38,170.90 140.00,170.00 C142.98,168.98 146.30,167.68 149.40,166.30 C152.56,164.89 156.04,162.75 158.80,161.60 C160.87,160.73 162.62,159.65 164.40,159.70 C166.04,159.75 167.74,160.58 169.10,161.60 C170.58,162.71 171.82,164.35 172.80,166.30 C174.04,168.78 174.55,172.65 175.30,175.60 C175.97,178.26 176.36,183.14 177.10,183.20 C177.76,183.25 178.50,177.64 179.40,177.50 C180.09,177.39 180.83,180.07 181.70,180.30 C182.43,180.50 183.35,179.18 184.10,179.40 C185.12,179.70 186.14,183.36 186.90,183.20 C188.05,182.96 188.43,176.90 189.20,172.80 C190.30,166.94 190.85,155.52 192.50,151.30 C193.28,149.31 194.53,147.15 195.20,147.30 C196.16,147.51 196.23,153.45 196.70,156.90 C197.24,160.92 197.60,169.98 198.20,170.00 C198.72,170.02 199.16,160.48 200.00,160.30 C200.44,160.21 201.04,162.54 201.50,162.50 C202.01,162.46 202.37,159.55 202.90,159.50 C203.38,159.46 204.00,161.84 204.50,161.80 C205.04,161.76 205.47,158.84 206.00,158.80 C206.47,158.77 206.99,161.03 207.50,161.00 C208.15,160.97 208.76,158.04 209.50,157.30 C209.97,156.83 210.48,156.83 211.00,156.50 C211.63,156.10 212.38,155.65 213.00,155.00 C213.74,154.22 214.16,152.61 215.00,152.00 C215.71,151.48 216.75,151.84 217.50,151.30 C218.49,150.58 219.13,148.67 220.00,147.50 C220.80,146.42 221.67,145.50 222.50,144.50 C223.33,143.50 224.17,142.50 225.00,141.50 C225.83,140.50 226.69,139.57 227.50,138.50 C228.36,137.35 229.14,136.12 230.00,134.80 C230.97,133.31 231.94,131.34 233.00,130.00 C233.89,128.88 234.96,128.22 235.80,127.20 C236.66,126.16 237.38,125.04 238.10,123.80 C238.89,122.43 239.52,120.40 240.30,119.30 C240.84,118.54 241.30,117.98 242.00,117.60 C242.77,117.18 243.94,117.51 244.80,117.00 C245.88,116.36 246.60,114.45 247.70,113.60 C248.69,112.83 249.95,112.75 251.00,112.00 C252.20,111.15 253.22,109.58 254.40,108.60 C255.49,107.70 256.82,107.11 257.80,106.30 C258.65,105.60 259.24,104.79 260.00,104.10 C260.74,103.42 261.53,102.78 262.30,102.20 C263.03,101.65 263.83,101.42 264.50,100.70 C265.37,99.77 265.92,97.77 266.80,96.80 C267.50,96.03 268.40,95.11 269.10,95.10 C269.68,95.09 270.28,95.58 270.70,96.20 C271.40,97.22 271.57,99.09 271.90,101.30 C272.49,105.28 272.63,113.45 273.00,118.20 C273.27,121.67 273.27,124.97 273.80,127.20 C274.13,128.60 274.76,130.56 275.10,130.50 C276.09,130.32 275.41,110.52 275.60,100.00 C275.80,88.73 276.07,74.97 276.30,65.00 C276.47,57.56 276.59,45.50 276.80,45.50 C276.92,45.50 277.13,50.92 277.20,52.00" fill="none" stroke="#ff0000" stroke-width="2.4" stroke-linejoin="round" />
<path d="M54.50,280.50 C54.72,276.97 55.30,265.69 55.80,259.30 C56.22,254.01 56.77,249.22 57.20,244.80 C57.56,241.07 57.53,237.90 58.20,234.50 C58.88,231.03 59.95,227.58 61.30,224.20 C62.70,220.70 64.58,217.19 66.50,213.90 C68.39,210.66 70.33,207.49 72.70,204.60 C75.12,201.65 77.89,198.92 80.90,196.40 C84.03,193.77 87.71,191.39 91.20,189.20 C94.58,187.07 98.01,185.13 101.50,183.40 C104.91,181.71 108.40,180.18 111.90,178.90 C115.31,177.66 118.77,176.83 122.20,175.80 C125.63,174.77 129.08,173.80 132.50,172.70 C135.94,171.60 139.72,170.05 142.80,169.20 C145.22,168.53 147.03,168.48 149.40,167.80 C152.28,166.98 155.65,165.36 158.80,164.40 C161.88,163.46 164.98,162.73 168.10,162.10 C171.21,161.47 174.36,160.85 177.50,160.60 C180.62,160.35 183.96,160.27 186.90,160.60 C189.56,160.90 192.23,161.55 194.40,162.30 C196.19,162.91 197.59,163.95 199.10,164.50 C200.41,164.98 201.73,165.49 202.90,165.50 C203.90,165.51 204.71,165.12 205.70,164.80 C206.86,164.42 208.39,164.20 209.40,163.30 C210.58,162.25 211.23,160.14 212.00,158.50 C212.76,156.87 213.22,155.19 214.00,153.50 C214.84,151.69 215.95,149.86 216.90,148.00 C217.86,146.12 218.71,144.03 219.70,142.30 C220.59,140.76 221.57,139.40 222.50,138.10 C223.34,136.92 224.18,135.72 225.00,134.80 C225.67,134.05 226.33,133.27 227.00,132.90 C227.50,132.62 228.02,132.41 228.50,132.50 C229.02,132.60 229.56,133.05 230.00,133.60 C230.62,134.37 231.10,135.72 231.50,137.00 C231.98,138.55 232.15,140.61 232.50,142.30 C232.82,143.86 233.06,145.68 233.50,146.80 C233.79,147.53 234.15,148.53 234.50,148.50 C235.08,148.45 235.68,143.61 236.40,143.50 C236.92,143.42 237.55,145.73 238.10,145.70 C238.69,145.67 239.08,143.56 239.80,142.90 C240.42,142.33 241.37,141.65 242.00,141.80 C242.68,141.96 243.08,144.09 243.70,144.10 C244.40,144.11 245.14,141.48 246.00,141.20 C246.68,140.98 247.49,141.93 248.20,141.80 C249.00,141.65 249.70,140.25 250.50,140.10 C251.21,139.97 251.96,140.86 252.70,140.70 C253.63,140.50 254.50,138.60 255.50,138.40 C256.41,138.22 257.48,139.45 258.40,139.30 C259.38,139.14 260.23,137.82 261.20,137.30 C262.10,136.81 263.11,136.43 264.00,136.20 C264.76,136.00 265.44,136.13 266.20,135.90 C267.12,135.62 268.13,134.92 269.10,134.50 C270.03,134.09 271.02,133.69 271.90,133.40 C272.67,133.14 273.30,133.18 274.10,132.80 C275.26,132.25 276.82,130.70 278.00,130.00 C278.90,129.47 279.64,128.99 280.50,128.80 C281.31,128.62 282.19,128.62 283.00,128.80 C283.86,128.99 284.67,130.00 285.50,130.00 C286.33,130.00 287.14,129.25 288.00,128.80 C288.96,128.30 290.03,127.58 291.00,127.10 C291.86,126.67 292.65,126.27 293.50,126.00 C294.32,125.74 295.17,125.50 296.00,125.50 C296.83,125.50 297.68,126.09 298.50,126.00 C299.35,125.91 300.22,125.28 301.00,124.90 C301.71,124.55 302.33,124.14 303.00,123.80 C303.66,123.47 304.51,122.65 305.00,122.90 C305.73,123.27 305.70,127.70 306.00,127.70 C306.25,127.70 306.24,125.26 306.70,124.30 C307.12,123.43 307.76,122.57 308.50,122.10 C309.21,121.66 310.23,121.80 311.00,121.50 C311.72,121.22 312.28,120.68 313.00,120.40 C313.77,120.10 314.73,119.68 315.50,119.80 C316.23,119.91 316.85,121.05 317.50,121.00 C318.19,120.94 318.81,119.79 319.50,119.30 C320.15,118.83 320.79,118.13 321.50,118.10 C322.28,118.06 323.22,119.34 324.00,119.30 C324.71,119.27 325.33,118.49 326.00,118.10 C326.66,117.72 327.28,117.10 328.00,117.00 C328.77,116.90 329.79,117.07 330.50,117.60 C331.41,118.28 331.76,121.13 332.60,121.30 C333.30,121.45 334.33,120.17 335.00,119.50 C335.61,118.89 335.97,118.34 336.50,117.50 C337.29,116.25 338.23,114.41 339.10,112.60 C340.13,110.45 341.13,107.70 342.20,105.40 C343.20,103.24 344.01,100.96 345.30,99.20 C346.48,97.58 348.02,96.16 349.50,95.10 C350.81,94.16 352.34,93.40 353.60,93.00 C354.57,92.69 355.62,93.29 356.30,92.60 C357.66,91.21 357.15,81.72 357.70,81.70 C358.15,81.68 358.81,86.03 359.20,88.90 C359.77,93.07 359.80,104.39 360.20,104.40 C360.55,104.41 360.71,96.50 361.40,93.00 C362.01,89.90 362.95,84.52 363.90,84.40 C364.54,84.32 365.36,86.59 366.00,87.90 C366.74,89.41 367.39,93.01 368.00,93.00 C368.54,92.99 369.02,88.88 369.50,88.90 C370.06,88.92 370.11,93.60 371.10,94.50 C371.78,95.12 373.07,95.32 373.80,95.00 C374.60,94.65 374.99,92.21 375.60,92.20 C376.22,92.19 376.78,94.96 377.50,95.00 C378.32,95.04 379.49,91.64 380.30,91.70 C381.03,91.75 381.38,94.49 382.20,94.70 C382.97,94.90 383.98,93.67 385.00,93.20 C386.16,92.66 387.64,92.22 388.80,91.70 C389.82,91.25 390.80,90.17 391.60,90.30 C392.34,90.42 392.82,92.22 393.50,92.20 C394.36,92.17 395.17,89.37 396.30,89.00 C397.36,88.65 398.79,89.74 400.00,89.80 C401.15,89.86 402.49,89.97 403.40,89.40 C404.39,88.78 404.76,86.08 405.60,86.00 C406.45,85.92 407.42,88.88 408.50,89.00 C409.61,89.13 411.03,87.52 412.20,86.60 C413.40,85.66 414.58,83.42 415.60,83.40 C416.40,83.38 416.90,85.04 417.80,85.30 C418.84,85.60 420.40,85.21 421.60,84.70 C422.92,84.14 423.99,82.87 425.30,81.90 C426.77,80.81 428.44,78.87 430.00,78.50 C431.27,78.20 432.68,79.60 433.80,79.10 C435.28,78.45 436.42,73.49 437.50,73.50 C438.37,73.51 439.07,75.81 439.80,77.20 C440.66,78.85 441.37,82.72 442.20,82.80 C442.82,82.86 443.54,81.18 444.10,80.00 C444.89,78.33 445.31,73.54 446.00,73.50 C446.59,73.47 447.15,76.95 447.90,78.10 C448.44,78.93 449.17,80.12 449.70,80.00 C450.49,79.83 450.93,76.34 451.60,74.40 C452.33,72.29 453.08,67.94 453.90,67.80 C454.38,67.72 454.99,68.73 455.40,69.70 C456.24,71.70 456.35,75.70 456.70,80.00 C457.28,87.16 457.38,98.22 457.70,108.70 C458.09,121.39 458.46,150.80 458.80,150.80 C459.25,150.80 459.45,96.90 460.00,75.40 C460.41,59.33 461.25,40.32 461.50,33.30" fill="none" stroke="#0000ff" stroke-width="2.4" stroke-linejoin="round" />
<path d="M68.60,409.00 C69.13,408.00 70.70,404.83 71.80,403.00 C72.78,401.37 73.71,399.97 74.80,398.50 C75.93,396.97 77.17,395.47 78.50,394.00 C79.89,392.47 81.47,390.89 83.00,389.50 C84.47,388.17 85.99,386.99 87.50,385.80 C88.99,384.63 90.48,383.48 92.00,382.40 C93.48,381.35 95.08,380.30 96.50,379.40 C97.73,378.62 98.61,378.13 100.00,377.30 C102.03,376.08 105.00,374.30 107.50,372.80 C110.00,371.30 112.49,369.76 115.00,368.30 C117.49,366.86 119.98,365.42 122.50,364.10 C124.98,362.79 127.28,361.54 130.00,360.40 C133.06,359.12 137.12,358.12 140.00,356.90 C142.29,355.93 143.97,354.94 146.00,353.90 C148.11,352.81 150.27,351.63 152.40,350.50 C154.53,349.37 156.61,348.10 158.80,347.10 C160.98,346.10 163.33,345.35 165.50,344.50 C167.56,343.69 170.24,343.09 171.50,342.10 C172.30,341.48 172.55,340.85 173.00,340.00 C173.58,338.89 173.81,336.69 174.50,335.90 C174.93,335.41 175.55,334.98 176.00,335.10 C176.58,335.25 176.88,336.94 177.50,337.40 C178.02,337.78 178.75,338.10 179.30,337.90 C180.06,337.63 180.51,335.34 181.30,335.00 C181.90,334.74 182.64,335.20 183.30,335.30 C183.94,335.40 184.60,335.79 185.20,335.60 C185.92,335.38 186.51,334.25 187.20,333.70 C187.84,333.19 188.66,333.12 189.20,332.40 C190.02,331.30 190.10,328.57 190.80,327.10 C191.36,325.91 192.09,325.08 192.80,324.10 C193.52,323.11 194.40,321.20 195.10,321.20 C195.68,321.20 196.29,322.29 196.70,323.20 C197.32,324.59 197.27,327.55 197.70,329.10 C197.99,330.16 198.39,331.72 198.70,331.70 C199.07,331.68 199.34,329.01 199.70,327.80 C200.02,326.73 200.29,324.84 200.70,324.80 C201.07,324.76 201.62,326.30 202.00,327.10 C202.39,327.93 202.65,329.70 203.00,329.70 C203.41,329.70 203.68,326.65 204.30,326.10 C204.67,325.77 205.20,325.62 205.60,325.80 C206.22,326.08 206.63,328.66 207.20,328.70 C207.73,328.74 208.31,326.88 208.90,326.40 C209.32,326.06 209.80,325.71 210.20,325.80 C210.68,325.91 210.98,327.29 211.50,327.40 C212.01,327.51 212.64,326.82 213.30,326.50 C214.08,326.12 214.96,325.62 215.90,325.30 C216.94,324.94 218.18,324.79 219.30,324.50 C220.41,324.22 221.49,323.88 222.60,323.60 C223.72,323.31 224.87,322.80 226.00,322.80 C227.13,322.80 228.29,323.72 229.40,323.60 C230.55,323.48 231.65,322.12 232.80,322.00 C233.89,321.89 234.95,322.78 236.10,322.80 C237.34,322.82 238.81,321.84 240.00,322.00 C241.09,322.14 242.02,323.56 243.00,323.50 C244.02,323.44 244.98,321.56 246.00,321.50 C246.98,321.44 248.00,323.00 249.00,323.00 C250.00,323.00 250.98,321.57 252.00,321.50 C252.99,321.43 254.01,322.57 255.00,322.50 C256.02,322.43 256.98,321.07 258.00,321.00 C258.99,320.93 260.01,322.07 261.00,322.00 C262.02,321.93 262.98,320.57 264.00,320.50 C264.99,320.43 266.01,321.57 267.00,321.50 C268.02,321.43 269.12,320.21 270.00,320.00 C270.63,319.85 271.42,320.00 271.70,320.00" fill="none" stroke="#ff0000" stroke-width="2.4" stroke-linejoin="round" />
<polygon points="271.7,306.1 273.8,306.1 274.3,309.3 277.8,309.3 277.8,333.0 276.0,333.0 275.5,341.7 274.5,341.7 273.5,332.2 271.7,332.2" fill="#ff0000" stroke="#ff0000" stroke-width="0.8" stroke-linejoin="round"/>
<path d="M71.20,409.00 C71.67,408.13 72.98,405.36 74.00,403.80 C74.93,402.39 75.91,401.27 77.00,400.00 C78.17,398.64 79.52,397.18 80.80,395.90 C82.02,394.69 83.19,393.64 84.50,392.50 C85.91,391.27 87.46,389.93 89.00,388.80 C90.50,387.70 92.06,386.74 93.60,385.80 C95.10,384.88 96.93,383.96 98.10,383.20 C98.89,382.69 99.15,382.39 100.00,381.80 C101.66,380.65 104.98,378.48 107.50,376.90 C109.99,375.34 112.47,373.78 115.00,372.40 C117.47,371.05 119.98,369.84 122.50,368.70 C124.98,367.58 127.30,366.58 130.00,365.60 C133.07,364.49 136.90,363.43 140.00,362.50 C142.68,361.69 145.28,361.05 147.50,360.30 C149.32,359.68 150.67,359.14 152.40,358.40 C154.40,357.54 156.58,356.42 158.80,355.40 C161.20,354.29 163.79,353.07 166.30,352.00 C168.79,350.94 171.64,349.74 173.80,349.00 C175.39,348.46 176.44,348.22 178.00,347.80 C179.95,347.27 182.40,346.53 184.60,346.10 C186.76,345.67 189.12,345.49 191.10,345.20 C192.77,344.96 194.38,344.84 195.70,344.50 C196.73,344.23 197.67,344.03 198.40,343.50 C199.09,343.00 199.53,342.26 200.00,341.50 C200.52,340.65 200.77,339.44 201.30,338.60 C201.78,337.83 202.40,336.69 203.00,336.60 C203.51,336.52 204.10,337.16 204.60,337.60 C205.18,338.12 205.63,339.42 206.20,339.60 C206.61,339.73 207.08,339.44 207.50,339.20 C207.99,338.92 208.35,338.12 208.90,337.90 C209.45,337.68 210.29,337.74 210.80,337.90 C211.21,338.03 211.52,338.74 211.80,338.60 C213.06,337.97 212.41,314.50 212.60,314.50 C212.87,314.50 212.72,364.60 212.90,364.60 C213.05,364.60 213.23,338.06 213.50,330.00 C213.65,325.66 213.86,320.00 214.00,320.00 C214.22,320.00 214.34,344.00 214.50,344.00 C214.67,344.00 214.83,318.00 215.00,318.00 C215.17,318.00 215.33,343.00 215.50,343.00 C215.66,343.00 215.83,322.00 216.00,322.00 C216.29,322.00 216.65,379.80 216.90,379.80 C217.15,379.80 217.24,325.00 217.50,325.00 C217.65,325.00 217.84,342.00 218.00,342.00 C218.18,342.00 218.31,321.00 218.50,321.00 C218.65,321.00 218.48,334.94 219.00,335.00 C219.31,335.04 219.61,331.64 220.30,330.30 C220.92,329.09 221.97,328.24 222.80,327.20 C223.64,326.15 224.50,325.19 225.30,324.00 C226.21,322.66 226.98,320.46 227.90,319.50 C228.51,318.87 229.20,318.21 229.80,318.30 C230.48,318.40 231.13,319.48 231.70,320.50 C232.62,322.12 233.05,327.36 234.00,327.50 C234.73,327.61 235.70,325.02 236.50,324.00 C237.16,323.16 237.76,321.78 238.40,321.80 C239.09,321.82 239.81,323.68 240.50,324.50 C241.11,325.23 241.71,326.54 242.30,326.50 C242.98,326.45 243.59,324.38 244.30,323.50 C244.93,322.71 245.65,321.42 246.30,321.40 C246.88,321.38 247.44,322.44 248.00,323.00 C248.58,323.57 249.13,324.82 249.70,324.80 C250.33,324.78 250.93,323.16 251.60,322.50 C252.20,321.91 252.90,320.96 253.50,321.00 C254.10,321.04 254.60,322.19 255.20,322.70 C255.77,323.19 256.40,324.05 257.00,324.00 C257.67,323.95 258.30,322.55 259.00,322.00 C259.64,321.50 260.35,320.75 261.00,320.80 C261.69,320.86 262.29,322.13 263.00,322.50 C263.63,322.82 264.37,323.15 265.00,323.00 C265.71,322.83 266.30,321.72 267.00,321.30 C267.64,320.92 268.34,320.47 269.00,320.50 C269.67,320.53 270.33,321.50 271.00,321.50 C271.67,321.50 272.33,320.83 273.00,320.50 C273.67,320.17 274.25,319.77 275.00,319.50 C275.88,319.18 277.01,319.08 278.00,318.80 C279.01,318.52 279.91,317.95 281.00,317.80 C282.22,317.63 283.59,318.02 285.00,318.00 C286.57,317.98 288.26,317.76 290.00,317.60 C291.91,317.43 294.14,316.95 296.00,317.00 C297.64,317.04 299.23,317.69 300.60,317.70 C301.71,317.71 302.94,317.70 303.60,317.30 C304.08,317.01 304.35,316.22 304.50,316.00" fill="none" stroke="#0000ff" stroke-width="2.4" stroke-linejoin="round" />
<polygon points="304.2,305.1 305.5,309.6 307.0,310.8 309.3,310.2 312.1,309.1 314.3,308.5 316.0,310.2 318.8,308.5 321.6,307.4 325.0,308.0 328.4,305.7 331.8,306.8 336.3,303.4 339.7,304.6 343.0,302.9 346.4,300.6 350.9,302.3 355.0,301.0 357.5,300.0 359.5,307.9 362.0,310.7 364.5,308.5 366.5,306.8 368.5,308.3 370.0,309.6 372.5,307.2 374.5,306.2 376.5,307.8 378.0,309.6 380.0,307.2 382.0,305.6 384.0,306.8 386.0,308.4 388.0,306.3 390.0,305.1 393.0,306.8 397.0,303.4 402.0,303.9 405.0,304.6 409.0,301.3 412.0,301.8 415.0,305.8 418.0,301.3 421.0,300.1 424.0,302.4 426.0,304.6 429.5,300.1 432.5,297.3 436.0,299.6 438.5,297.9 441.0,298.4 443.5,295.6 446.0,299.0 448.0,301.8 451.0,300.7 454.0,300.1 457.0,299.0 459.5,297.9 462.0,300.7 463.0,302.4 463.0,306.9 461.0,308.0 458.0,307.5 454.0,308.0 450.0,308.0 447.0,308.6 445.0,311.4 442.0,315.3 440.0,314.5 438.0,312.5 436.0,308.6 433.0,312.0 430.0,310.8 427.0,308.6 424.5,311.4 422.0,315.3 419.5,314.2 417.0,310.8 415.0,312.5 412.5,321.3 411.0,320.5 409.0,318.2 406.0,317.0 403.5,316.9 402.0,320.0 400.0,323.1 398.0,321.0 396.0,316.9 394.0,321.3 392.0,323.6 390.0,320.5 388.0,315.8 386.0,318.2 384.0,320.8 382.0,319.0 380.0,316.3 378.0,318.5 376.0,320.3 374.5,319.3 372.5,316.9 370.5,319.3 369.0,320.3 367.5,320.1 366.0,319.1 363.0,316.9 361.0,321.4 359.5,329.8 358.5,321.4 355.0,320.8 351.5,321.5 348.7,319.8 345.3,317.5 341.4,322.0 338.5,319.2 335.2,320.9 331.8,324.8 327.3,325.4 323.9,328.8 320.5,327.7 318.3,329.9 316.0,331.6 313.8,332.2 310.4,331.0 308.7,333.9 306.4,334.4 304.8,328.8" fill="#0000ff" stroke="#0000ff" stroke-width="0.8" stroke-linejoin="round"/>
<polyline points="52.5,557.8 59.8,557.8 62.0,555.5 65.0,554.0 69.5,552.8 75.5,552.1 81.5,551.8 87.5,551.8 90.5,552.2 92.8,553.3 95.0,552.5 96.5,554.0 98.8,553.3 101.0,554.8 103.3,552.5 104.8,555.5 106.3,563.8 107.8,557.8 109.3,554.8 110.8,556.3 112.3,564.5 113.8,572.0 114.9,574.3 116.1,567.5 118.3,563.0 120.6,559.3 123.6,556.3 125.1,557.8 126.6,555.5 128.1,560.0 129.6,565.2 132.9,549.4 134.9,565.2 136.6,578.3 138.1,548.1 140.1,547.5 142.1,559.3 145.4,546.8 148.7,550.1 151.3,548.1 153.9,545.5 155.9,550.1 159.2,545.5 162.5,542.2 164.4,548.8 167.7,541.5 170.3,546.1 173.0,544.2 175.6,543.5 178.9,533.7 182.8,523.1 186.1,518.5 188.1,521.2 189.7,527.2 190.8,522.7 191.5,549.3 192.2,533.8 193.3,520.5 194.1,525.0 195.2,538.3 196.3,527.2 198.0,521.1 200.2,522.7 202.4,527.2 204.6,529.4 206.8,532.7 209.6,534.9 211.8,536.6 214.6,539.4 216.8,541.6 219.0,543.2 220.4,554.9 221.0,567.1 221.8,547.1 223.5,533.8 225.7,528.3 227.9,522.7 229.9,515.3 231.2,517.8 233.1,512.8 234.3,509.0 235.0,512.8 236.9,515.3 239.4,522.9 241.0,530.0 241.9,533.0 243.8,531.8 245.7,522.9 247.6,515.9 249.5,514.0 250.8,502.6 251.7,493.8 252.7,496.3 254.6,509.0 255.8,521.6 257.7,502.6 259.4,483.7 260.7,491.3 261.5,502.6" fill="none" stroke="#ff0000" stroke-width="2.4" stroke-linejoin="round" />
<polyline points="52.5,564.2 60.5,564.2 62.8,561.8 66.5,560.0 72.5,558.5 80.0,557.8 87.5,557.8 95.0,558.8 101.0,560.0 105.6,561.8 109.3,564.5 113.1,565.3 114.6,569.0 116.8,578.0 119.1,582.6 121.3,580.3 123.6,574.3 125.8,568.3 127.6,566.5 130.9,562.6 134.2,566.5 137.5,558.0 140.8,569.1 144.1,557.3 148.0,561.2 151.3,558.0 155.9,555.3 159.8,557.3 164.4,555.3 167.0,550.1 170.3,559.3 173.0,550.7 175.6,554.7 178.2,550.1 180.8,556.0 182.8,551.4 184.8,565.2 186.8,579.6 188.7,557.3 190.2,551.6 193.0,540.5 195.8,531.6 198.5,524.4 200.7,527.7 202.4,530.5 203.0,542.1 203.5,525.0 204.6,532.7 205.7,540.5 206.8,527.2 208.5,526.6 210.2,530.0 212.4,534.4 214.6,538.8 216.3,546.0 217.9,545.5 219.6,549.3 220.2,558.2 221.8,549.3 223.5,553.2 225.1,551.6 226.8,542.7 229.0,537.0 231.2,529.4 233.5,522.7 235.5,519.0 237.1,510.9 238.8,517.8 239.5,527.9 241.0,525.5 242.5,538.0 243.5,554.0 245.7,536.8 247.6,526.7 249.5,519.1 250.8,517.8 252.1,496.3 253.3,497.6 254.6,509.0 255.8,534.3 256.5,540.4 258.4,509.0 259.6,483.7 260.7,490.0 261.5,506.4 262.4,519.1" fill="none" stroke="#0000ff" stroke-width="2.4" stroke-linejoin="round" />
<path d="M276.50,585.10 C277.82,585.10 282.32,585.67 284.40,585.10 C285.94,584.68 286.72,583.66 288.10,582.90 C289.78,581.97 292.14,581.04 293.80,580.00 C295.21,579.12 296.18,578.35 297.50,577.20 C299.22,575.70 300.90,573.45 303.10,571.60 C305.75,569.37 309.33,567.05 312.50,565.00 C315.60,562.99 318.73,561.13 321.90,559.40 C325.00,557.70 328.14,556.11 331.30,554.70 C334.40,553.32 337.58,552.25 340.70,551.00 C343.81,549.75 346.86,548.30 350.00,547.20 C353.10,546.11 356.28,545.40 359.40,544.40 C362.54,543.40 365.71,542.15 368.80,541.20 C371.74,540.29 374.73,539.73 377.50,538.80 C380.12,537.92 382.48,536.69 385.00,535.80 C387.48,534.92 389.99,534.19 392.50,533.50 C394.99,532.82 397.49,532.25 400.00,531.70 C402.49,531.15 405.41,530.52 407.50,530.20 C408.97,529.98 410.22,529.69 411.30,529.80 C412.14,529.89 412.70,530.33 413.50,530.50 C414.41,530.69 415.51,530.91 416.50,530.80 C417.51,530.69 418.48,530.05 419.50,529.80 C420.51,529.55 421.47,529.39 422.60,529.30 C423.96,529.19 425.76,529.43 427.10,529.30 C428.21,529.19 428.94,529.03 430.10,528.70 C431.77,528.23 434.08,527.12 436.10,526.50 C438.08,525.89 440.09,525.54 442.10,525.00 C444.15,524.45 446.59,523.98 448.30,523.20 C449.66,522.58 450.52,521.31 451.70,521.00 C452.76,520.72 453.99,520.90 455.00,521.20 C455.98,521.49 456.89,522.36 457.70,522.70 C458.32,522.96 458.91,523.43 459.40,523.20 C460.15,522.85 460.29,520.34 461.10,519.40 C461.81,518.58 462.82,518.16 463.80,517.70 C464.84,517.21 466.12,516.67 467.20,516.60 C468.14,516.54 469.11,517.14 469.90,517.10 C470.54,517.07 471.12,517.06 471.60,516.60 C472.43,515.81 472.63,512.89 473.30,511.60 C473.78,510.67 474.46,510.41 474.90,509.40 C475.62,507.74 475.83,502.23 476.30,502.20 C476.60,502.18 476.67,504.84 477.20,505.00 C477.72,505.16 478.55,503.75 479.40,503.30 C480.35,502.79 481.93,502.02 482.70,502.20 C483.21,502.32 483.51,503.41 483.80,503.30 C484.63,502.98 483.67,490.81 484.40,490.50 C484.60,490.42 484.90,490.72 485.10,491.10 C485.72,492.29 485.45,498.26 486.00,500.00 C486.25,500.79 486.75,501.33 486.90,501.60" fill="none" stroke="#ff0000" stroke-width="2.4" stroke-linejoin="round" />
<path d="M276.50,587.00 C277.82,587.00 282.36,587.76 284.40,587.00 C286.00,586.40 286.73,584.96 288.10,583.80 C289.79,582.37 291.91,580.67 293.80,579.10 C295.68,577.54 297.49,575.82 299.40,574.40 C301.23,573.04 302.94,571.81 305.00,570.70 C307.27,569.48 309.87,568.66 312.50,567.50 C315.46,566.19 318.76,564.62 321.90,563.20 C325.03,561.78 328.13,560.21 331.30,559.00 C334.40,557.82 337.57,556.94 340.70,556.00 C343.80,555.07 346.89,554.23 350.00,553.40 C353.12,552.57 356.28,551.88 359.40,551.00 C362.54,550.11 365.74,549.15 368.80,548.10 C371.77,547.08 374.70,545.80 377.50,544.80 C380.08,543.88 382.50,543.10 385.00,542.30 C387.50,541.50 389.99,540.72 392.50,540.00 C394.99,539.29 397.49,538.53 400.00,538.00 C402.49,537.47 405.00,537.17 407.50,536.80 C410.00,536.43 412.49,536.16 415.00,535.80 C417.53,535.43 420.41,534.44 422.60,534.60 C424.31,534.72 425.75,536.01 427.10,536.00 C428.20,535.99 428.91,535.25 430.10,535.00 C431.74,534.65 434.11,534.76 436.10,534.40 C438.11,534.03 440.01,533.42 442.10,532.80 C444.42,532.11 447.29,531.26 449.40,530.40 C451.11,529.71 452.50,528.77 453.90,528.20 C455.07,527.72 456.13,527.27 457.20,527.10 C458.16,526.94 459.14,526.95 460.00,527.10 C460.79,527.24 461.48,528.07 462.20,527.90 C463.15,527.67 463.95,525.69 465.00,524.90 C466.00,524.15 467.22,523.84 468.30,523.20 C469.42,522.54 470.62,521.68 471.60,521.00 C472.41,520.43 472.98,519.77 473.80,519.40 C474.64,519.02 475.88,519.39 476.60,518.80 C477.48,518.08 477.66,516.18 478.30,514.90 C478.96,513.58 479.74,512.23 480.50,511.00 C481.21,509.84 482.09,508.60 482.70,507.70 C483.13,507.07 483.51,506.89 483.80,506.10 C484.39,504.52 484.39,498.30 484.70,498.30 C484.96,498.30 485.20,502.28 485.50,503.80 C485.72,504.90 485.89,505.80 486.20,506.60 C486.45,507.25 486.95,508.02 487.10,508.30" fill="none" stroke="#0000ff" stroke-width="2.4" stroke-linejoin="round" />
<line x1="275.00" y1="5.20" x2="275.00" y2="279.60" stroke="#ff2a2a" stroke-width="1.5" stroke-dasharray='5.3 3.2'/>
<line x1="275.00" y1="290.00" x2="275.00" y2="408.00" stroke="#ff2a2a" stroke-width="1.5" stroke-dasharray='5.3 3.2'/>
<line x1="459.40" y1="5.20" x2="459.40" y2="279.60" stroke="#0000ff" stroke-width="1.5" stroke-dasharray='5.3 3.2'/>
<line x1="459.40" y1="290.00" x2="459.40" y2="408.00" stroke="#0000ff" stroke-width="1.5" stroke-dasharray='5.3 3.2'/>
<line x1="51.80" y1="252.30" x2="489.20" y2="252.30" stroke="#000" stroke-width="1.3" stroke-dasharray='6.2 2.4'/>
<line x1="152.70" y1="290.00" x2="152.70" y2="408.00" stroke="#000" stroke-width="1.3" stroke-dasharray='6.2 2.4'/>
<line x1="191.88" y1="471.50" x2="191.88" y2="590.00" stroke="#000" stroke-width="1.3" stroke-dasharray='6.2 2.4'/>
<line x1="416.78" y1="471.50" x2="416.78" y2="590.00" stroke="#000" stroke-width="1.3" stroke-dasharray='6.2 2.4'/>
<line x1="234.27" y1="471.50" x2="234.27" y2="590.00" stroke="#000" stroke-width="1.3" stroke-dasharray='6.2 2.4'/>
<line x1="459.17" y1="471.50" x2="459.17" y2="590.00" stroke="#000" stroke-width="1.3" stroke-dasharray='6.2 2.4'/>
<line x1="251.61" y1="471.50" x2="251.61" y2="590.00" stroke="#000" stroke-width="1.3" stroke-dasharray='6.2 2.4'/>
<line x1="476.51" y1="471.50" x2="476.51" y2="590.00" stroke="#000" stroke-width="1.3" stroke-dasharray='6.2 2.4'/>
<line x1="259.53" y1="471.50" x2="259.53" y2="590.00" stroke="#000" stroke-width="1.3" stroke-dasharray='6.2 2.4'/>
<line x1="484.43" y1="471.50" x2="484.43" y2="590.00" stroke="#000" stroke-width="1.3" stroke-dasharray='6.2 2.4'/>
<rect x="100.6" y="214.6" width="98" height="58.1" fill="#fff" stroke="#262626" stroke-width="1.2"/>
<line x1="104.00" y1="229.30" x2="129.90" y2="229.30" stroke="#ff0000" stroke-width="2" />
<line x1="104.00" y1="257.90" x2="129.90" y2="257.90" stroke="#0000ff" stroke-width="2" />
<text x="133" y="233.6" font-size="17" text-anchor="start" font-family='Liberation Serif' font-style='italic' font-weight='normal'>β</text>
<text x="141.9" y="240.6" font-size="12.5" text-anchor="start" >N</text>
<text x="152.3" y="233.3" font-size="16" text-anchor="start" >=0.51</text>
<text x="133" y="262.2" font-size="17" text-anchor="start" font-family='Liberation Serif' font-style='italic' font-weight='normal'>β</text>
<text x="141.9" y="269.2" font-size="12.5" text-anchor="start" >N</text>
<text x="152.3" y="261.90000000000003" font-size="16" text-anchor="start" >=0.33</text>
<path d="M145.0,623.5 L146.8,622.2 L149.6,630.3 L157.2,613.4 L172.8,613.4" fill="none" stroke="#222" stroke-width="1.0"/>
<path d="M158.3,619.2 C158.7,623.8 159.6,625.0 161.5,625.0 C163.5,625.0 165.0,623.0 165.3,619.0 M164.4,615.0 L161.2,628.8" fill="none" stroke="#222" stroke-width="1.1"/>
<text x='165.8' y='626.5' font-size='11.5' style='font-family:"Liberation Serif",serif;font-style:italic;font-weight:normal;fill:#222'>p</text>
<path d="M369.9,623.5 L371.7,622.2 L374.5,630.3 L382.1,613.4 L397.7,613.4" fill="none" stroke="#222" stroke-width="1.0"/>
<path d="M383.2,619.2 C383.6,623.8 384.5,625.0 386.4,625.0 C388.4,625.0 389.9,623.0 390.2,619.0 M389.3,615.0 L386.1,628.8" fill="none" stroke="#222" stroke-width="1.1"/>
<text x='390.7' y='626.5' font-size='11.5' style='font-family:"Liberation Serif",serif;font-style:italic;font-weight:normal;fill:#222'>p</text>
</svg>
</body></html>
